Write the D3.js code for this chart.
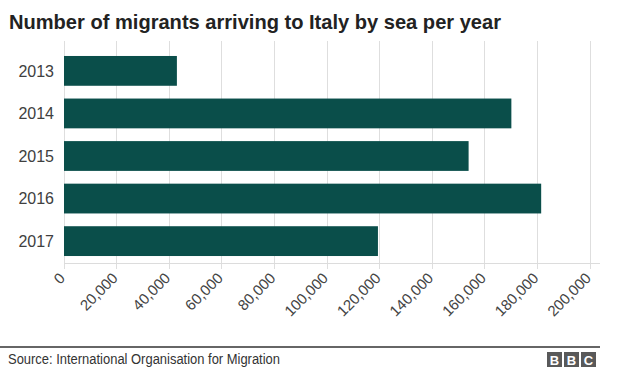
<!DOCTYPE html>
<html>
<head>
<meta charset="utf-8">
<script src="https://cdn.jsdelivr.net/npm/d3@7"></script>
<style>
  html, body { margin: 0; padding: 0; background: #fff; }
  svg { display: block; }
  text { font-family: "Liberation Sans", Arial, Helvetica, sans-serif; }
</style>
</head>
<body>
<svg id="chart" width="624" height="376"></svg>
<script>
const title = "Number of migrants arriving to Italy by sea per year";
const source = "Source: International Organisation for Migration";
const years = ["2013", "2014", "2015", "2016", "2017"];
const arrivals = [42925, 170100, 153842, 181436, 119369];
const tickValues = [0, 20000, 40000, 60000, 80000, 100000, 120000, 140000, 160000, 180000, 200000];

const svg = d3.select("#chart");

function fitText(sel, target) {
  const node = sel.node();
  const w = node.getComputedTextLength();
  if (Math.abs(w - target) / target > 0.015) {
    sel.attr("textLength", target).attr("lengthAdjust", "spacingAndGlyphs");
  }
}

// Title
const t = svg.append("text")
  .attr("x", 9).attr("y", 28.5)
  .attr("font-size", 20.5).attr("font-weight", "bold")
  .attr("fill", "#222")
  .text(title);
fitText(t, 492);

const x = d3.scaleLinear().domain([0, 200000]).range([64, 590]);
const y = d3.scaleBand().domain(years).range([41, 271]).paddingInner(0.3).paddingOuter(0.352);

// Gridlines
svg.append("g").selectAll("line").data(tickValues).join("line")
  .attr("x1", d => x(d)).attr("x2", d => x(d))
  .attr("y1", 41).attr("y2", 269)
  .attr("stroke", "#dedede").attr("stroke-width", 1)
  .attr("shape-rendering", "crispEdges");

// Axis line
svg.append("line")
  .attr("x1", x(0)).attr("x2", 600)
  .attr("y1", 263).attr("y2", 263)
  .attr("stroke", "#dcdcdc").attr("stroke-width", 1)
  .attr("shape-rendering", "crispEdges");

// Bars
const data = years.map((yr, i) => ({ year: yr, value: arrivals[i] }));
svg.append("g").selectAll("rect").data(data).join("rect")
  .attr("x", x(0))
  .attr("y", d => y(d.year))
  .attr("width", d => x(d.value) - x(0))
  .attr("height", y.bandwidth())
  .attr("fill", "#0a4e4a");

// Year labels
svg.append("g").selectAll("text").data(years).join("text")
  .attr("x", 54)
  .attr("y", d => y(d) + y.bandwidth() / 2)
  .attr("dy", "0.36em")
  .attr("text-anchor", "end")
  .attr("font-size", 16)
  .attr("fill", "#404040")
  .text(d => d);

// X tick labels (rotated)
const fmt = d3.format(",");
svg.append("g").selectAll("text").data(tickValues).join("text")
  .attr("transform", d => `translate(${x(d) + 2},${279}) rotate(-45)`)
  .attr("text-anchor", "end")
  .attr("font-size", 15)
  .attr("fill", "#444")
  .text(d => fmt(d));

// Footer line
svg.append("line")
  .attr("x1", 0).attr("x2", 600)
  .attr("y1", 347).attr("y2", 347)
  .attr("stroke", "#333").attr("stroke-width", 1.3);

// Source
const s = svg.append("text")
  .attr("x", 8).attr("y", 364)
  .attr("font-size", 14)
  .attr("fill", "#333")
  .text(source);
fitText(s, 272);

// BBC logo
const logo = svg.append("g").attr("transform", "translate(547,352)");
["B", "B", "C"].forEach((ch, i) => {
  logo.append("rect").attr("x", i * 17).attr("y", 0).attr("width", 15).attr("height", 15).attr("fill", "#595959");
  logo.append("text").attr("x", i * 17 + 7.5).attr("y", 12.5)
    .attr("text-anchor", "middle").attr("font-size", 13).attr("font-weight", "bold")
    .attr("fill", "#fff").text(ch);
});
</script>
</body>
</html>
